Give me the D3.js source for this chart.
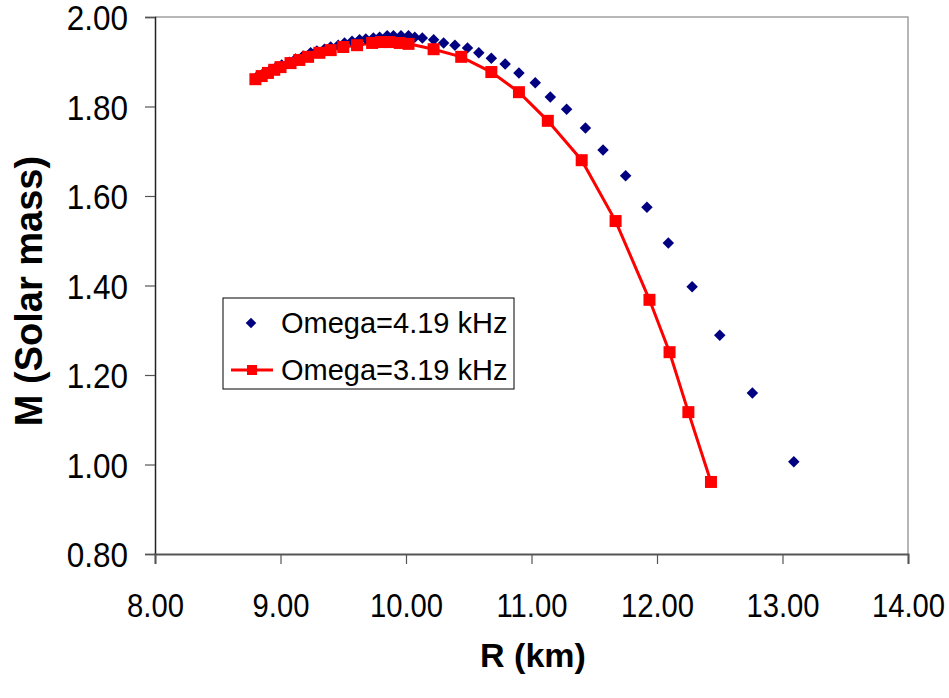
<!DOCTYPE html>
<html>
<head>
<meta charset="utf-8">
<script src="https://cdn.jsdelivr.net/npm/d3@7"></script>
<style>
  body { margin: 0; background: #fff; }
  text { font-family: "Liberation Sans", Arial, sans-serif; fill: #000; }
</style>
</head>
<body>
<script>
// Omega = 4.19 kHz (markers only)
var r419 = [8.81, 8.86, 8.91, 8.96, 9.01, 9.07, 9.12, 9.18, 9.24, 9.29, 9.35, 9.40, 9.46, 9.51,
            9.57, 9.63, 9.68, 9.74, 9.79, 9.85, 9.90, 9.96, 10.02, 10.07, 10.13, 10.22, 10.30,
            10.39, 10.49, 10.58, 10.68, 10.79, 10.90, 11.03, 11.15, 11.28, 11.43, 11.57, 11.75,
            11.92, 12.09, 12.28, 12.50, 12.76, 13.09];
var m419 = [1.866, 1.873, 1.879, 1.886, 1.893, 1.899, 1.906, 1.913, 1.920, 1.924, 1.928, 1.933,
            1.937, 1.942, 1.946, 1.949, 1.951, 1.953, 1.955, 1.958, 1.958, 1.958, 1.958, 1.955,
            1.953, 1.949, 1.942, 1.937, 1.931, 1.920, 1.908, 1.895, 1.875, 1.853, 1.821, 1.794,
            1.752, 1.703, 1.645, 1.575, 1.495, 1.397, 1.289, 1.160, 1.006];

// Omega = 3.19 kHz (line + squares)
var r319 = [8.80, 8.85, 8.90, 8.95, 9.00, 9.08, 9.15, 9.22, 9.31, 9.40, 9.50, 9.61, 9.73, 9.80,
            9.87, 9.95, 10.02, 10.22, 10.44, 10.68, 10.90, 11.13, 11.40, 11.67, 11.94, 12.10,
            12.25, 12.43];
var m319 = [1.861, 1.868, 1.875, 1.882, 1.888, 1.897, 1.904, 1.911, 1.920, 1.926, 1.933, 1.937,
            1.942, 1.944, 1.944, 1.942, 1.940, 1.928, 1.911, 1.877, 1.832, 1.768, 1.680, 1.544,
            1.368, 1.251, 1.117, 0.961];

var xTicks = [8, 9, 10, 11, 12, 13, 14];
var yTicks = [0.8, 1.0, 1.2, 1.4, 1.6, 1.8, 2.0];
var seriesNames = ["Omega=4.19 kHz", "Omega=3.19 kHz"];

var W = 949, H = 698;
var margin = {top: 17, right: 41, bottom: 144, left: 155};

var svg = d3.select("body").append("svg")
    .attr("width", W)
    .attr("height", H);

var x = d3.scaleLinear().domain([8, 14]).range([margin.left, W - margin.right]);
var y = d3.scaleLinear().domain([0.8, 2.0]).range([H - margin.bottom, margin.top]);

// frame: top and right in light grey
svg.append("path")
    .attr("d", "M" + x(8) + "," + y(2) + "H" + x(14) + "V" + y(0.8))
    .attr("fill", "none")
    .attr("stroke", "#a0a0a0")
    .attr("stroke-width", 1.5);

// y axis
var yAxis = svg.append("g")
    .attr("transform", "translate(" + x(8) + ",0)")
    .call(d3.axisLeft(y).tickValues(yTicks).tickSize(10).tickFormat(d3.format(".2f")));
yAxis.select(".domain").attr("stroke", "#222").attr("stroke-width", 1.5);
yAxis.selectAll(".tick line").attr("stroke", "#555").attr("stroke-width", 1.2);
yAxis.selectAll(".tick text")
    .style("font-size", "35px")
    .style("font-family", "'Liberation Sans', Arial, sans-serif")
    .attr("dy", "0.36em")
    .attr("transform", "translate(-27,0) scale(0.9,1)")
    .attr("x", 0);

// x axis
var xAxis = svg.append("g")
    .attr("transform", "translate(0," + y(0.8) + ")")
    .call(d3.axisBottom(x).tickValues(xTicks).tickSize(10).tickFormat(d3.format(".2f")));
xAxis.select(".domain").attr("stroke", "#555").attr("stroke-width", 2);
xAxis.selectAll(".tick line").attr("stroke", "#555").attr("stroke-width", 1.2);
xAxis.selectAll(".tick text")
    .style("font-size", "34px")
    .style("font-family", "'Liberation Sans', Arial, sans-serif")
    .attr("y", 0).attr("dy", 0)
    .attr("transform", "translate(0,63) scale(0.86,1)");

// axis titles
svg.append("text")
    .attr("transform", "translate(42," + 291 + ") rotate(-90)")
    .attr("text-anchor", "middle")
    .style("font-size", "38px")
    .style("font-weight", "bold")
    .text("M (Solar mass)");

svg.append("text")
    .attr("x", 533).attr("y", 667)
    .attr("text-anchor", "middle")
    .style("font-size", "34px")
    .style("font-weight", "bold")
    .text("R (km)");

// series data
var data419 = r419.map(function(d, i) { return {r: d, m: m419[i]}; });
var data319 = r319.map(function(d, i) { return {r: d, m: m319[i]}; });

var line = d3.line()
    .x(function(d) { return x(d.r); })
    .y(function(d) { return y(d.m); });

svg.append("path")
    .datum(data319)
    .attr("d", line)
    .attr("fill", "none")
    .attr("stroke", "#ff0000")
    .attr("stroke-width", 3);

// blue diamonds drawn first, red squares above
var diamond = d3.symbol().type(d3.symbolSquare).size(66);
svg.selectAll("path.d419")
    .data(data419)
    .enter().append("path")
    .attr("class", "d419")
    .attr("d", diamond)
    .attr("transform", function(d) { return "translate(" + x(d.r) + "," + y(d.m) + ") rotate(45)"; })
    .attr("fill", "#000080");

var sq = 12;
svg.selectAll("rect.s319")
    .data(data319)
    .enter().append("rect")
    .attr("class", "s319")
    .attr("x", function(d) { return x(d.r) - sq / 2; })
    .attr("y", function(d) { return y(d.m) - sq / 2; })
    .attr("width", sq).attr("height", sq)
    .attr("fill", "#ff0000");

// legend
var lg = svg.append("g").attr("transform", "translate(223,298)");
lg.append("rect")
    .attr("width", 291).attr("height", 91)
    .attr("fill", "#fff")
    .attr("stroke", "#000")
    .attr("stroke-width", 1);

lg.append("path")
    .attr("d", d3.symbol().type(d3.symbolSquare).size(56))
    .attr("transform", "translate(28,25) rotate(45)")
    .attr("fill", "#000080");
lg.append("line")
    .attr("x1", 8).attr("x2", 50).attr("y1", 72).attr("y2", 72)
    .attr("stroke", "#ff0000").attr("stroke-width", 3);
lg.append("rect")
    .attr("x", 24).attr("y", 67).attr("width", 10).attr("height", 10)
    .attr("fill", "#ff0000");

lg.selectAll("text.lg")
    .data(seriesNames)
    .enter().append("text")
    .attr("class", "lg")
    .attr("x", 58)
    .attr("y", function(d, i) { return 25 + i * 47; })
    .attr("dy", "0.36em")
    .style("font-size", "29px")
    .text(function(d) { return d; });
</script>
</body>
</html>
